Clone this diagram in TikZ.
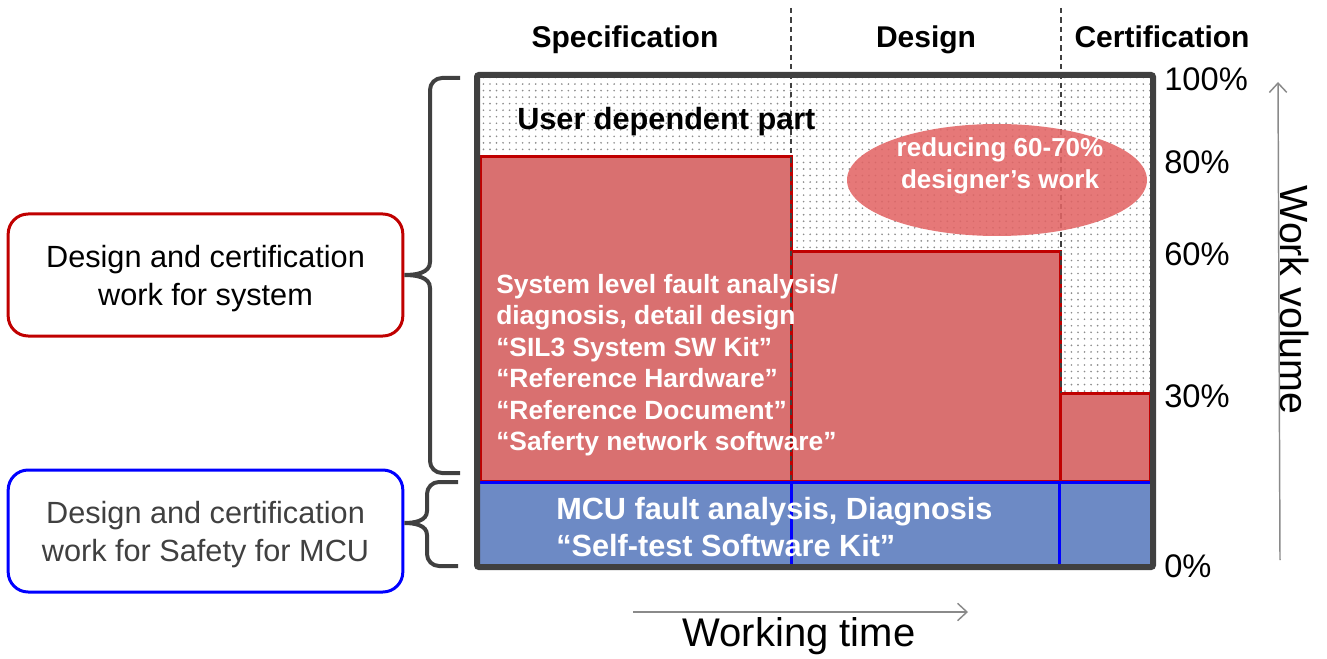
\documentclass[tikz,border=0pt]{standalone}
\usepackage{fontspec}
\setmainfont{Liberation Sans}
\usetikzlibrary{patterns.meta,shapes.geometric,arrows.meta}
\definecolor{boxred}{HTML}{C00000}
\definecolor{fillred}{HTML}{D97070}
\definecolor{fillblue}{HTML}{6D8AC5}
\definecolor{framegray}{HTML}{404040}
\definecolor{ellred}{HTML}{E26565}
\definecolor{arrowgray}{HTML}{8A8A8A}
\definecolor{pureblue}{HTML}{0000FF}
\tikzdeclarepattern{name=sparsedots,type=uncolored,bounding box={(-1pt,-1pt) and (1pt,1pt)},tile size={(4.9pt,4.9pt)},code={\fill (0,0) circle (0.7pt);}}
\tikzset{
  redrect/.style={fill=fillred,draw=boxred,line width=2.25pt},
  headtxt/.style={font=\fontsize{22.5pt}{27pt}\selectfont\bfseries,inner sep=0pt,anchor=base},
  pcttxt/.style={font=\fontsize{24.5pt}{28pt}\selectfont,inner sep=0pt,anchor=west},
  sidebox/.style={rounded corners=15pt,line width=2.25pt,minimum width=296pt,minimum height=91.5pt},
  sidetxt/.style={align=center,inner sep=0pt,font=\fontsize{23pt}{28.5pt}\selectfont},
  gridline/.style={framegray,line width=1.1pt,dash pattern=on 4pt off 3pt},
  bracepath/.style={framegray,line width=3pt},
  axisarrow/.style={arrowgray,line width=1.1pt,-{Straight Barb[length=7pt,width=13pt]}}
}
\begin{document}
\begin{tikzpicture}[x=0.75pt,y=-0.75pt]
\useasboundingbox (0,0) rectangle (1327,659);
% dotted background
\fill[pattern=sparsedots,pattern color=black!45] (480,78) rectangle (1150,565);
% red blocks
\draw[redrect] (480,157) rectangle (791,481);
\draw[redrect] (791,252) rectangle (1060,481);
\draw[redrect] (1060,393) rectangle (1150,481);
% blue block
\fill[fillblue] (480,481) rectangle (1150,565);
% dashed phase separators
\draw[gridline] (791,8) -- (791,481);
\draw[gridline] (1061,8) -- (1061,393);
\draw[pureblue,line width=2.25pt] (480,482) -- (1150,482);
\draw[pureblue,line width=2.25pt] (791,482) -- (791,565);
\draw[pureblue,line width=2.25pt] (1059,482) -- (1059,565);
% ellipse
\node[ellipse,fill=ellred,fill opacity=0.88,minimum width=225pt,minimum height=84pt] (reduce) at (997,180) {};
\node[text=white,align=center,inner sep=0pt,font=\fontsize{19.5pt}{24pt}\selectfont\bfseries] (reducetxt) at (1000,166) {reducing 60-70\%\\designer’s work};
% frame
\draw[framegray,line width=4.5pt,rounded corners=1.5pt] (477,75) rectangle (1153,567);
% headers
\node[headtxt] (hspec) at (625,48) {Specification};
\node[headtxt] (hdes) at (926,48) {Design};
\node[headtxt] (hcert) at (1162,48) {Certification};
% inner texts
\node[inner sep=0pt,anchor=west,font=\fontsize{23pt}{27pt}\selectfont\bfseries] (user) at (517,122) {User dependent part};
\node[inner sep=0pt,anchor=west,align=left,text=white,font=\fontsize{19.8pt}{23.6pt}\selectfont\bfseries] (systxt) at (496,365) {System level fault analysis/\\diagnosis, detail design\\“SIL3 System SW Kit”\\“Reference Hardware”\\“Reference Document”\\“Saferty network software”};
\node[inner sep=0pt,anchor=west,align=left,text=white,font=\fontsize{23pt}{27.75pt}\selectfont\bfseries] (mcutxt) at (556,527) {MCU fault analysis, Diagnosis\\“Self-test Software Kit”};
% percentages
\node[pcttxt] (p100) at (1164,79) {100\%};
\node[pcttxt] (p80) at (1164,162) {80\%};
\node[pcttxt] (p60) at (1164,254) {60\%};
\node[pcttxt] (p30) at (1164,396) {30\%};
\node[pcttxt] (p0) at (1164,566) {0\%};
% axes
\coordinate (vbot) at (1280,560);
\coordinate (vtop) at (1278,82);
\draw[axisarrow] (vbot) -- (vtop);
\node[rotate=-90,inner sep=0pt,font=\fontsize{29.5pt}{34pt}\selectfont] (wv) at (1295,300) {Work volume};
\coordinate (hleft) at (633,612);
\coordinate (hright) at (968,612);
\draw[axisarrow] (hleft) -- (hright);
\node[inner sep=0pt,font=\fontsize{30pt}{34pt}\selectfont] (wt) at (799,636) {Working time};
% side boxes
\node[sidebox,draw=boxred] (sysbox) at (205.5,275) {};
\node[sidetxt] (systext) at ([yshift=-3pt]sysbox.center) {Design and certification\\work for system};
\node[sidebox,draw=pureblue] (mcubox) at (205.5,531) {};
\node[sidetxt,text=framegray] (mcutext) at ([yshift=-3pt]mcubox.center) {Design and certification\\work for Safety for MCU};
% braces
\coordinate (b1top) at (460,78);
\coordinate (b1bot) at (460,473);
\draw[bracepath] (b1top) -- (442,78) to[out=180,in=90] (430,90) -- (430,262) to[out=270,in=0] (sysbox.east) to[out=0,in=90] (430,288) -- (430,461) to[out=270,in=180] (442,473) -- (b1bot);
\coordinate (b2top) at (458,482);
\coordinate (b2bot) at (458,566);
\draw[bracepath] (b2top) -- (439,482) to[out=180,in=90] (427,494) -- (427,511) to[out=270,in=0] ([yshift=6pt]mcubox.east) to[out=0,in=90] (427,535) -- (427,554) to[out=270,in=180] (439,566) -- (b2bot);
\end{tikzpicture}
\end{document}
